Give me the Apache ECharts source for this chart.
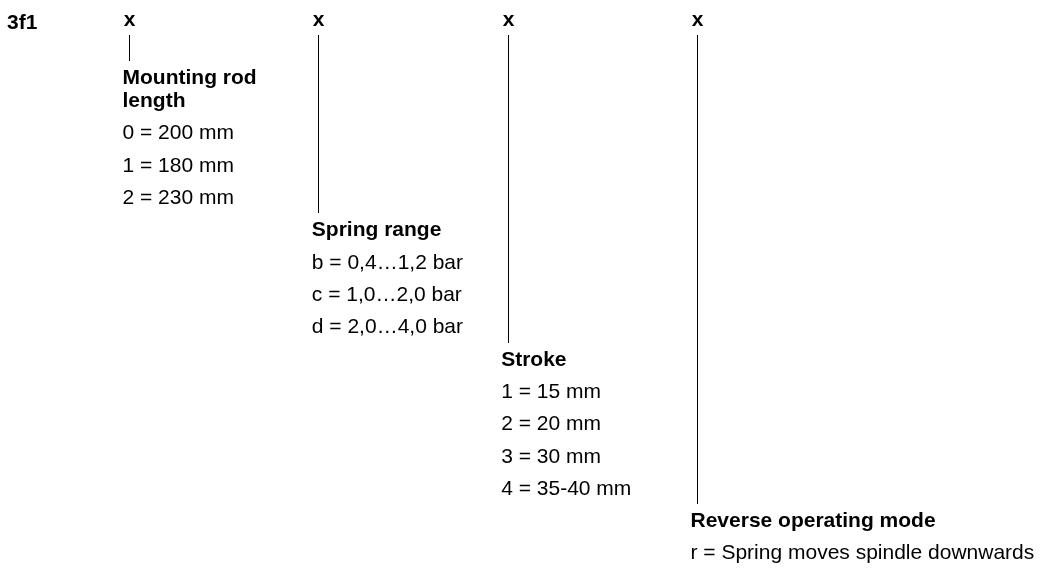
<!DOCTYPE html>
<html><head><meta charset="utf-8">
<script src="https://cdn.jsdelivr.net/npm/echarts@6/dist/echarts.min.js"></script>
<style>html,body{margin:0;padding:0;background:#fff}#c{width:1043px;height:568px}</style>
</head><body><div id="c"></div>
<script>
// ---- data ----
const typeCode = '3f1';
const codeMarks = ['x', 'x', 'x', 'x'];
const headings = [['Mounting rod', 'length'], ['Spring range'], ['Stroke'], ['Reverse operating mode']];
const optionLists = [
  ['0 = 200 mm', '1 = 180 mm', '2 = 230 mm'],
  ['b = 0,4…1,2 bar', 'c = 1,0…2,0 bar', 'd = 2,0…4,0 bar'],
  ['1 = 15 mm', '2 = 20 mm', '3 = 30 mm', '4 = 35-40 mm'],
  ['r = Spring moves spindle downwards']
];

// ---- layout in row units (derived from lists) ----
const FONT = '"Liberation Sans", Arial, sans-serif';
const FS = 21;
const codeRow = -3.5, lineTopRow = -3.03, headLineStep = 0.7, lineGap = 0.53;
let start = 0;
const colData = optionLists.map((opts, i) => {
  const headRow = start - 1;
  const item = [i + 1, headRow, start, opts.length];
  start += opts.length + 1;
  return item;
});

const chart = echarts.init(document.getElementById('c'));
chart.setOption({
  backgroundColor: '#fff',
  animation: false,
  title: {
    text: typeCode, left: 2, top: 8,
    textStyle: { fontSize: FS, fontWeight: 'bold', fontFamily: FONT, color: '#000' }
  },
  grid: { left: 129, right: 346, top: 4.1, bottom: 14.3 },
  xAxis: { type: 'value', min: 1, max: 4, show: false },
  yAxis: { type: 'value', min: -4, max: 13, inverse: true, show: false },
  series: [{
    type: 'custom',
    clip: false,
    data: colData,
    renderItem: function (params, api) {
      const i = params.dataIndex;
      const col = api.value(0), headRow = api.value(1), optStart = api.value(2), n = api.value(3);
      const heads = headings[i];
      const children = [];
      const pCode = api.coord([col, codeRow]);
      const lx = Math.round(pCode[0]) + 0.5;
      children.push({
        type: 'text', x: lx, y: pCode[1],
        style: { text: codeMarks[i], fill: '#000', font: 'bold ' + FS + 'px ' + FONT, textAlign: 'center', textVerticalAlign: 'middle' }
      });
      const topHeadRow = headRow - (heads.length - 1) * headLineStep;
      const pTop = api.coord([col, lineTopRow]);
      const pEnd = api.coord([col, topHeadRow - lineGap]);
      children.push({
        type: 'line',
        shape: { x1: lx, y1: Math.round(pTop[1]), x2: lx, y2: Math.round(pEnd[1]) },
        style: { stroke: '#000', lineWidth: 1 }
      });
      heads.forEach((h, k) => {
        const p = api.coord([col, topHeadRow + k * headLineStep]);
        children.push({
          type: 'text', x: p[0] - 6.5, y: p[1],
          style: { text: h, fill: '#000', font: 'bold ' + FS + 'px ' + FONT, textAlign: 'left', textVerticalAlign: 'middle' }
        });
      });
      for (let k = 0; k < n; k++) {
        const p = api.coord([col, optStart + k]);
        children.push({
          type: 'text', x: p[0] - 6.5, y: p[1],
          style: { text: optionLists[i][k], fill: '#000', font: FS + 'px ' + FONT, textAlign: 'left', textVerticalAlign: 'middle' }
        });
      }
      return { type: 'group', children: children };
    }
  }]
});
</script>
</body></html>
